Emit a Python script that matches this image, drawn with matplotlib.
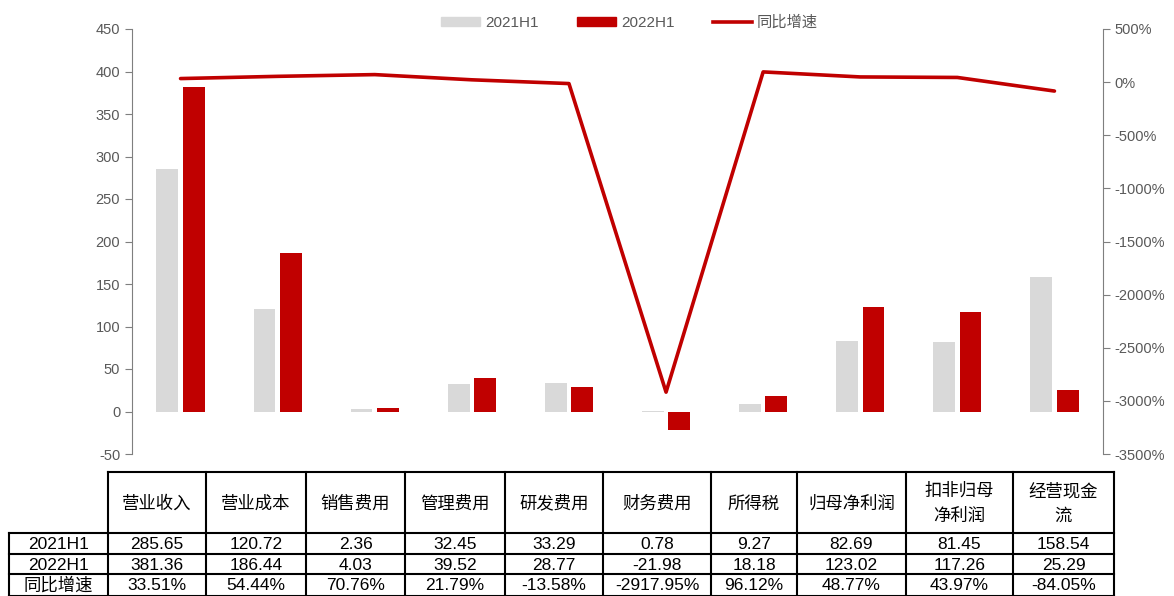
import numpy as np
import matplotlib
matplotlib.use('Agg')
import matplotlib.pyplot as plt
from matplotlib.patches import Patch
from matplotlib.lines import Line2D

plt.rcParams['font.family'] = ['Liberation Sans', 'Noto Sans CJK SC']
plt.rcParams['axes.unicode_minus'] = False

# 数据
categories = ['营业收入', '营业成本', '销售费用', '管理费用', '研发费用',
              '财务费用', '所得税', '归母净利润', '扣非归母\n净利润', '经营现金\n流']
v2021 = [285.65, 120.72, 2.36, 32.45, 33.29, 0.78, 9.27, 82.69, 81.45, 158.54]
v2022 = [381.36, 186.44, 4.03, 39.52, 28.77, -21.98, 18.18, 123.02, 117.26, 25.29]
growth = [33.51, 54.44, 70.76, 21.79, -13.58, -2917.95, 96.12, 48.77, 43.97, -84.05]
row_labels = ['2021H1', '2022H1', '同比增速']

GRAY = '#D9D9D9'
RED = '#C00000'
TXT = '#595959'

W, H = 1174, 596
fig = plt.figure(figsize=(W / 100, H / 100), dpi=100)
ax = fig.add_axes([132 / W, 1 - 454 / H, (1103 - 132) / W, (454 - 29) / H])
x = np.arange(len(categories))
bw = 0.225
ax.bar(x - 0.136, v2021, width=bw, color=GRAY)
ax.bar(x + 0.136, v2022, width=bw, color=RED)
ax.set_xlim(-0.5, len(categories) - 0.5)
ax.set_ylim(-50, 450)
ax.set_yticks(np.arange(-50, 451, 50))
ax.set_xticks([])
for s in ['top', 'bottom']:
    ax.spines[s].set_visible(False)
ax.spines['right'].set_visible(False)
ax.spines['left'].set_color('#7f7f7f')
ax.tick_params(axis='y', colors='#7f7f7f', labelcolor=TXT, labelsize=10.5, length=5)

ax2 = ax.twinx()
ax2.plot(x, growth, color=RED, lw=2.6, solid_capstyle='round')
ax2.set_ylim(-3500, 500)
ax2.set_yticks(np.arange(-3500, 501, 500))
ax2.set_yticklabels([f'{t}%' for t in range(-3500, 501, 500)])
for s in ['top', 'bottom', 'left']:
    ax2.spines[s].set_visible(False)
ax2.spines['right'].set_color('#7f7f7f')
ax2.tick_params(axis='y', colors='#7f7f7f', labelcolor=TXT, labelsize=10.5, length=5)

handles = [Patch(color=GRAY, label='2021H1'), Patch(color=RED, label='2022H1'),
           Line2D([], [], color=RED, lw=2.6, label='同比增速')]
leg = fig.legend(handles=handles, loc='upper center', bbox_to_anchor=(0.536, 0.997),
                 ncol=3, frameon=False, fontsize=11, handlelength=2.6, handleheight=0.6,
                 columnspacing=2.5, handletextpad=0.3)
for t in leg.get_texts():
    t.set_color(TXT)

# 表格
tab = fig.add_axes([0, 0, 1, 1])
tab.set_xlim(0, W)
tab.set_ylim(H, 0)
tab.axis('off')
cols = [108, 206, 306, 405, 505, 603, 711, 797, 906, 1013, 1114]
rows = [472, 533, 554, 574, 595.5]
lc = 'black'
lw = 1.5
tab.plot([cols[0], cols[-1]], [rows[0], rows[0]], color=lc, lw=lw)
for cx in cols:
    tab.plot([cx, cx], [rows[0], rows[-1]], color=lc, lw=lw)
for ry in rows[1:]:
    tab.plot([9, cols[-1]], [ry, ry], color=lc, lw=lw)
tab.plot([9, 9], [rows[1], rows[-1]], color=lc, lw=lw)

for i, c in enumerate(categories):
    xc = (cols[i] + cols[i + 1]) / 2
    tab.text(xc, (rows[0] + rows[1]) / 2 + 1, c, ha='center', va='center',
             fontsize=12.5, linespacing=1.5, family=['Noto Sans CJK SC'])

data_rows = [[f'{v:.2f}' for v in v2021], [f'{v:.2f}' for v in v2022],
             [f'{v:.2f}%' for v in growth]]
for r, (lab, vals) in enumerate(zip(row_labels, data_rows)):
    yc = (rows[r + 1] + rows[r + 2]) / 2 + 1
    tab.text((9 + cols[0]) / 2, yc, lab, ha='center', va='center', fontsize=12.5,
             family=['Liberation Sans', 'Noto Sans CJK SC'])
    for i, v in enumerate(vals):
        xc = (cols[i] + cols[i + 1]) / 2
        tab.text(xc, yc, v, ha='center', va='center', fontsize=12.5)

fig.savefig('out.png', dpi=100)
